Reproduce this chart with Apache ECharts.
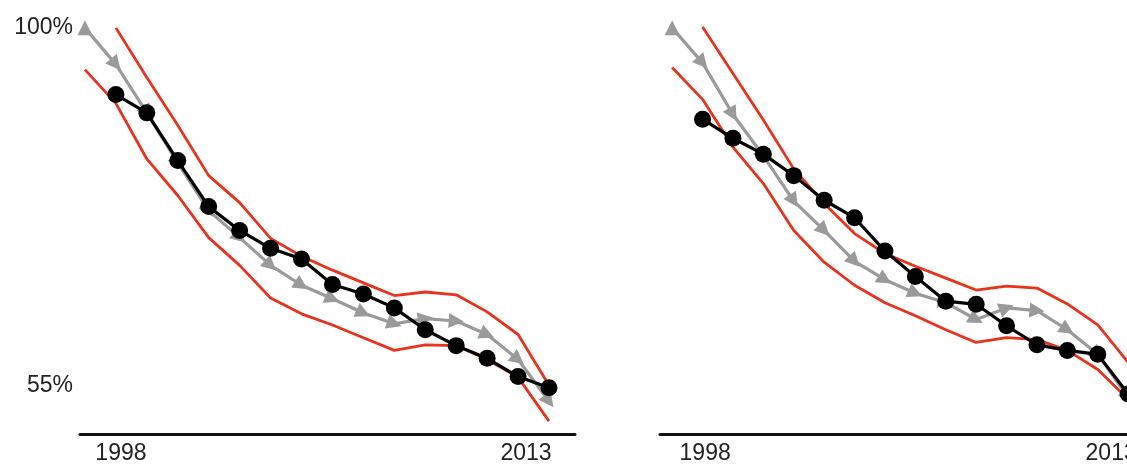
<!DOCTYPE html>
<html>
<head>
<meta charset="utf-8">
<script src="https://cdn.jsdelivr.net/npm/echarts@6/dist/echarts.min.js"></script>
<style>
html,body{margin:0;padding:0;background:#fff;overflow:hidden;}
#chart{width:1170px;height:465px;}
</style>
</head>
<body>
<div id="chart"></div>
<script>
// ---- data ----
const years = [1998,1999,2000,2001,2002,2003,2004,2005,2006,2007,2008,2009,2010,2011,2012,2013];
const yearsFrom1999 = years.slice(1);
const xTickLabels = [1998, 2013];
const yTickLabels = [55, 100];

// left panel
const grayLeft  = [100, 95.4, 89.3, 83.0, 77.0, 73.6, 70.1, 67.6, 65.9, 64.1, 62.75, 63.4, 63.1, 61.4, 58.25, 53.0];
const blackLeft = [91.6, 89.3, 83.3, 77.5, 74.5, 72.25, 70.9, 67.7, 66.5, 64.75, 62.0, 60.0, 58.4, 56.1, 54.7]; // 1999-2013
const upperLeft = [100, 93.75, 87.75, 81.4, 78.0, 73.5, 71.25, 69.5, 67.9, 66.3, 66.75, 66.4, 64.25, 61.4, 55.0]; // 1999-2013
const lowerLeft = [94.75, 90.5, 83.5, 78.9, 73.6, 70.1, 66.0, 64.0, 62.6, 61.0, 59.4, 60.1, 60.0, 58.25, 56.0, 50.5];

// right panel
const grayRight  = [100, 95.6, 89.1, 83.9, 78.2, 74.5, 70.6, 68.3, 66.6, 65.4, 63.3, 64.75, 64.4, 62.0, 58.9, 53.5];
const blackRight = [88.5, 86.1, 84.1, 81.4, 78.3, 76.1, 71.9, 68.7, 65.6, 65.2, 62.5, 60.1, 59.4, 58.9, 53.9]; // 1999-2013
const upperRight = [100.1, 94.25, 88.4, 82.25, 77.9, 74.1, 71.6, 70.0, 68.5, 67.0, 67.5, 67.25, 65.25, 62.6, 57.9]; // 1999-2013
const lowerRight = [95, 91, 85, 80.4, 74.5, 70.5, 67.6, 65.4, 63.75, 62.0, 60.4, 61.0, 60.75, 59.4, 57.0, 53.25];

// ---- helpers ----
const pair = (xs, ys) => ys.map((v, i) => [xs[i], v]);
const FONT = 'Liberation Sans';
const FS = 23;
const RED = '#e8321e', GRAY = '#9a9a9a', BLACK = '#000';

function xAxisFor(gridIndex, min, max, padStart, padEnd) {
  return {
    type: 'value', gridIndex, min, max,
    axisLine: {show: true, onZero: false, lineStyle: {color: '#111', width: 3}},
    axisTick: {show: false},
    splitLine: {show: false},
    axisLabel: {
      customValues: xTickLabels,
      margin: 8,
      color: '#222',
      fontFamily: FONT,
      fontSize: FS,
      formatter: v => (v === xTickLabels[0] ? '{a|' + v + '}' : '{b|' + v + '}'),
      rich: {
        a: {fontFamily: FONT, fontSize: FS, color: '#222', padding: [0, 0, 0, padStart]},
        b: {fontFamily: FONT, fontSize: FS, color: '#222', padding: [0, padEnd, 0, 0]}
      }
    }
  };
}
function yAxisFor(gridIndex, showLabels) {
  return {
    type: 'value', gridIndex, min: 48.875, max: 102.25,
    axisLine: {show: false}, axisTick: {show: false}, splitLine: {show: false},
    axisLabel: {
      show: showLabels,
      customValues: yTickLabels,
      margin: 7,
      color: '#222', fontFamily: FONT, fontSize: FS,
      formatter: v => v + '%'
    }
  };
}
function lineSeries(idx, data, color, width, symbol, size, z) {
  return {
    type: 'line', xAxisIndex: idx, yAxisIndex: idx, data,
    symbol: symbol, symbolSize: size, showSymbol: symbol !== 'none',
    lineStyle: {color, width}, itemStyle: {color},
    z, animation: false, silent: true, clip: true
  };
}

const chart = echarts.init(document.getElementById('chart'), null, {renderer: 'canvas'});
const baseOption = {
  animation: false,
  backgroundColor: '#fff',
  grid: [
    {left: 80, top: 10, width: 495, height: 427, containLabel: false},
    {left: 660, top: 10, width: 494, height: 427, containLabel: false}
  ],
  xAxis: [
    xAxisFor(0, 1997.84, 2013.84, 72, 46),
    xAxisFor(1, 1997.6, 2013.85, 66, 34)
  ],
  yAxis: [yAxisFor(0, true), yAxisFor(1, false)],
  series: [
    lineSeries(0, pair(yearsFrom1999, upperLeft), RED, 2.8, 'none', 0, 1),
    lineSeries(0, pair(years, lowerLeft), RED, 2.8, 'none', 0, 1),
    lineSeries(0, pair(years, grayLeft), GRAY, 3.2, 'triangle', 15, 2),
    lineSeries(0, pair(yearsFrom1999, blackLeft), BLACK, 3.2, 'circle', 17, 3),
    lineSeries(1, pair(yearsFrom1999, upperRight), RED, 2.8, 'none', 0, 1),
    lineSeries(1, pair(years, lowerRight), RED, 2.8, 'none', 0, 1),
    lineSeries(1, pair(years, grayRight), GRAY, 3.2, 'triangle', 15, 2),
    lineSeries(1, pair(yearsFrom1999, blackRight), BLACK, 3.2, 'circle', 17, 3)
  ]
};
chart.setOption(baseOption);

// orient gray triangles along the direction of travel (arrowheads), using the library's own scales
function arrowData(gridIndex, ys) {
  const pts = years.map((x, i) => chart.convertToPixel({gridIndex}, [x, ys[i]]));
  return ys.map((v, i) => {
    if (i === 0) return {value: [years[i], v]};
    const dx = pts[i][0] - pts[i - 1][0];
    const dy = pts[i][1] - pts[i - 1][1];
    const phi = Math.atan2(-dy, dx) * 180 / Math.PI;
    return {value: [years[i], v], symbolRotate: phi - 90};
  });
}
chart.setOption({
  series: [
    {}, {}, {data: arrowData(0, grayLeft)}, {},
    {}, {}, {data: arrowData(1, grayRight)}, {}
  ]
});
</script>
</body>
</html>
